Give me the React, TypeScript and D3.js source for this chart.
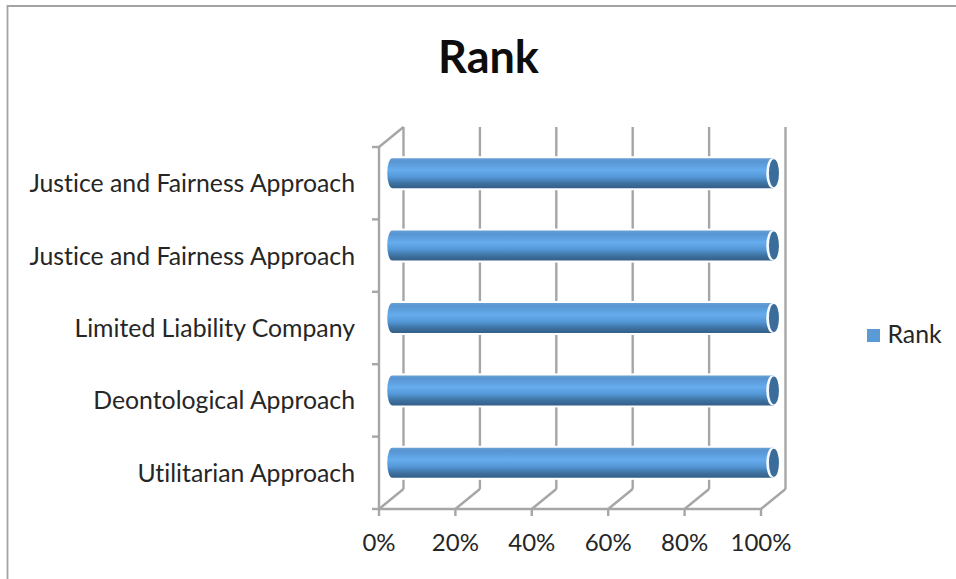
import React from "react";
import * as d3 from "d3";

const categories = [
  "Utilitarian Approach",
  "Deontological Approach",
  "Limited Liability Company",
  "Justice and Fairness Approach",
  "Justice and Fairness Approach",
];
const shareValues = [100, 100, 100, 100, 100];
const percentTicks = [0, 20, 40, 60, 80, 100];
const seriesName = "Rank";

const WIDTH = 956;
const HEIGHT = 579;
const FONT = "Lato, Carlito, Calibri, sans-serif";
const AXIS = "#a6a6a6";
const TEXT = "#262626";

// Oblique offset of the back wall relative to the front plane.
const DEPTH_X = 24.5;
const DEPTH_Y = -20;
const BAR_RADIUS = 15;
const CAP_RX = 5;

const x = d3.scaleLinear().domain([0, 100]).range([379, 761]);
// Five rows, drawn bottom to top along the front plane.
const rows = d3.range(categories.length);
const y = d3.scaleBand<number>().domain(rows).range([509, 147]);
const rowEdges = [...rows.map((r) => y(r)! + y.bandwidth()), 147];

export default function App() {
  const front = y.range();
  return (
    <svg
      width={WIDTH}
      height={HEIGHT}
      viewBox={`0 0 ${WIDTH} ${HEIGHT}`}
      style={{ position: "absolute", left: 0, top: 0, background: "#fff", fontVariantLigatures: "none" }}
    >
      <defs>
        <linearGradient id="tube" x1="0" y1="0" x2="0" y2="1">
          <stop offset="0" stopColor="#6a9fd4" />
          <stop offset="0.1" stopColor="#5795d2" />
          <stop offset="0.4" stopColor="#66acee" />
          <stop offset="0.62" stopColor="#5598d8" />
          <stop offset="0.84" stopColor="#3d719f" />
          <stop offset="1" stopColor="#335f88" />
        </linearGradient>
        <filter id="soft" x="-5%" y="-5%" width="110%" height="110%">
          <feGaussianBlur stdDeviation="0.5" />
        </filter>
      </defs>

      {/* chart frame */}
      <path d={`M7.5 579V6H956`} fill="none" stroke="#a3a3a3" strokeWidth={1.8} />

      <text
        x={488.5}
        y={73}
        textAnchor="middle"
        fontFamily={FONT}
        fontWeight={700}
        fontSize={45}
        fill="#0d0d0d"
      >
        Rank
      </text>

      {/* walls, floor and gridlines */}
      <g stroke={AXIS} strokeWidth={2.4} fill="none" filter="url(#soft)">
        {percentTicks.map((t) => (
          <g key={t}>
            <line x1={x(t) + DEPTH_X} x2={x(t) + DEPTH_X} y1={front[1] + DEPTH_Y} y2={front[0] + DEPTH_Y} />
            <line x1={x(t)} x2={x(t) + DEPTH_X} y1={front[0]} y2={front[0] + DEPTH_Y} />
            <line x1={x(t)} x2={x(t)} y1={front[0]} y2={front[0] + 7} />
          </g>
        ))}
        <line x1={x(0)} x2={x(100)} y1={front[0]} y2={front[0]} />
        <line x1={x(0)} x2={x(0)} y1={front[0]} y2={front[1]} />
        <line x1={x(0)} x2={x(0) + DEPTH_X} y1={front[1]} y2={front[1] + DEPTH_Y} />
        {rowEdges.map((e) => (
          <line key={e} x1={x(0) - 7} x2={x(0)} y1={e} y2={e} />
        ))}
      </g>

      {/* cylindrical bars sit halfway between the front plane and the back wall */}
      <g filter="url(#soft)">
        {rows.map((r) => {
          const cy = y(r)! + y.bandwidth() / 2 + DEPTH_Y / 2;
          const x0 = x(0) + DEPTH_X / 2;
          const x1 = x(shareValues[r]) + DEPTH_X / 2;
          return (
            <g key={r}>
              <rect x={x0 - 7} y={cy - BAR_RADIUS - 2} width={x1 - x0 + 7} height={BAR_RADIUS * 2 + 4} fill="#fff" />
              <path
                d={`M${x0 + 1} ${cy - BAR_RADIUS}H${x1}V${cy + BAR_RADIUS}H${x0 + 1}A${CAP_RX} ${BAR_RADIUS} 0 0 1 ${x0 + 1} ${cy - BAR_RADIUS}Z`}
                fill="url(#tube)"
              />
              <ellipse cx={x1 - 1} cy={cy} rx={CAP_RX + 1} ry={BAR_RADIUS} fill="#f6f9fd" />
              <ellipse cx={x1 + 0.7} cy={cy} rx={CAP_RX} ry={BAR_RADIUS - 1} fill="#3a6d9b" />
            </g>
          );
        })}
      </g>

      {/* category labels */}
      <g fontFamily={FONT} fontSize={24.8} fill={TEXT} textAnchor="end">
        {rows.map((r) => (
          <text key={r} x={355} y={y(r)! + y.bandwidth() / 2 + 9}>
            {categories[r]}
          </text>
        ))}
      </g>

      {/* value axis labels */}
      <g fontFamily={FONT} fontSize={24} fill={TEXT} textAnchor="middle">
        {percentTicks.map((t) => (
          <text key={t} x={x(t)} y={551}>
            {`${t}%`}
          </text>
        ))}
      </g>

      {/* legend */}
      <rect x={867} y={329} width={13} height={13} fill="#5b9bd5" />
      <text x={887.5} y={343} fontFamily={FONT} fontSize={24.8} fill={TEXT}>
        {seriesName}
      </text>
    </svg>
  );
}
